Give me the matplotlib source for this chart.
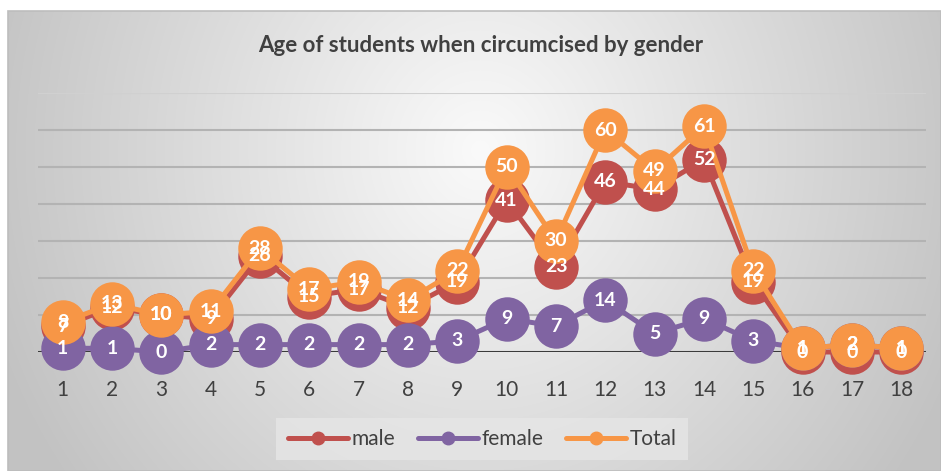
import matplotlib.pyplot as plt
import numpy as np
from matplotlib.patches import Rectangle

# Data
ages = list(range(1, 19))
male = [7, 12, 10, 9, 26, 15, 17, 12, 19, 41, 23, 46, 44, 52, 19, 0, 0, 0]
female = [1, 1, 0, 2, 2, 2, 2, 2, 3, 9, 7, 14, 5, 9, 3, 1, 2, 1]
total = [8, 13, 10, 11, 28, 17, 19, 14, 22, 50, 30, 60, 49, 61, 22, 1, 2, 1]

series = [('male', male, '#C0504D'),
          ('female', female, '#8064A2'),
          ('Total', total, '#F79646')]

W, H = 941, 471
fig = plt.figure(figsize=(W / 100, H / 100), dpi=100)
fig.patch.set_facecolor('white')

# radial gray background of the chart area
bg = fig.add_axes([8 / W, 0, 1 - 8 / W, 1 - 11 / H])
bg.set_axis_off()
yy, xx = np.mgrid[11:H, 8:W]
r = np.sqrt(((xx - 480) / 520.0) ** 2 + ((yy - 150) / 560.0) ** 2)
shade = 250 - 56 * np.clip(r, 0, 1)
img = np.dstack([shade, shade, shade]) / 255.0
bg.imshow(img, aspect='auto', extent=(0, 1, 0, 1), interpolation='bilinear')
bg.set_xlim(0, 1)
bg.set_ylim(0, 1)
fig.patches.append(Rectangle((8 / W, 0), 1 - 8 / W, 1 - 11 / H,
                             transform=fig.transFigure, fill=False,
                             edgecolor='#bdbdbd', linewidth=1.2, zorder=5))

ax = fig.add_axes([38 / W, (H - 352) / H, 888 / W, 259 / H])
ax.patch.set_alpha(0)
ax.set_xlim(0.5, 18.5)
ax.set_ylim(0, 70)
for s in ax.spines.values():
    s.set_visible(False)

for g in range(10, 71, 10):
    ax.axhline(g, color='#b3b3b3' if g < 70 else '#d0d0d0', lw=1.5, zorder=1)
ax.axhline(0, color='#3b3b3b', lw=2.2, zorder=1)

for i, (name, vals, col) in enumerate(series):
    ax.plot(ages, vals, color=col, lw=3.6, marker='o', markersize=32,
            markeredgewidth=0, solid_capstyle='round', zorder=2 + i,
            clip_on=False, label=name)

for name, vals, col in series:
    for x, v in zip(ages, vals):
        ax.text(x, v, str(v), ha='center', va='center', color='white',
                fontsize=14, fontweight='bold', family='Lato', zorder=10)

ax.set_xticks(ages)
ax.set_xticklabels([str(a) for a in ages], fontsize=15, color='#404040',
                   family='Lato')
ax.tick_params(axis='x', length=0, pad=20)
ax.set_yticks([])

fig.text(481 / W, 1 - 46 / H, 'Age of students when circumcised by gender',
         ha='center', va='center', fontsize=16, fontweight='bold',
         color='#404040', family='Lato')

handles = [plt.Line2D([], [], color=c, lw=3.6, marker='o', markersize=9,
                      solid_capstyle='round') for _, _, c in series]
leg = fig.legend(handles, [n for n, _, _ in series], loc='center',
                 bbox_to_anchor=(482 / W, 1 - 439 / H), ncol=3, frameon=True,
                 fancybox=False, handlelength=2.9, handletextpad=0.15,
                 columnspacing=1.1, borderpad=0.55, borderaxespad=0,
                 prop={'family': 'Lato', 'size': 15})
leg.get_frame().set_facecolor('#e6e6e6')
leg.get_frame().set_edgecolor('none')
for t in leg.get_texts():
    t.set_color('#404040')

fig.savefig('out.png', dpi=100)
